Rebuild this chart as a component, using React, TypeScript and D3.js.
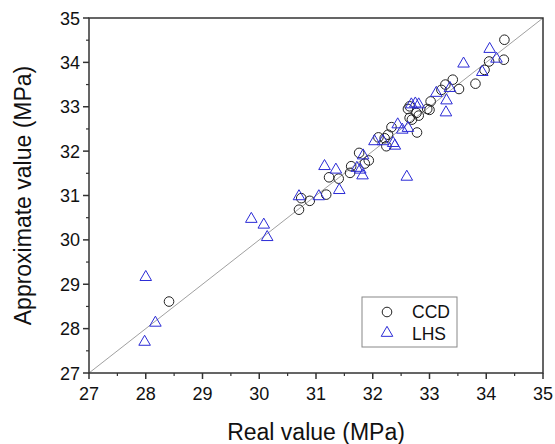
import React from 'react';
import * as d3 from 'd3';

// CCD 点：实测值 / 近似值
const ccdReal = [34.32, 34.31, 34.05, 33.97, 33.81, 33.41, 33.52, 33.28, 33.21, 33.02, 33.0, 32.96, 32.62, 32.65, 32.81, 32.77, 32.69, 32.78, 32.65, 32.33, 32.27, 32.21, 32.24, 32.1, 31.93, 31.86, 31.76, 31.62, 31.6, 31.4, 31.23, 31.18, 30.89, 30.74, 30.7, 28.41];
const ccdApprox = [34.51, 34.06, 34.02, 33.83, 33.52, 33.61, 33.4, 33.5, 33.38, 33.12, 32.93, 32.95, 32.95, 33.01, 32.8, 32.86, 32.71, 32.42, 32.75, 32.54, 32.37, 32.29, 32.11, 32.31, 31.79, 31.72, 31.96, 31.66, 31.51, 31.38, 31.41, 31.02, 30.88, 30.94, 30.68, 28.61];

// LHS 点
const lhsReal = [34.06, 34.18, 33.6, 33.93, 33.36, 33.12, 33.3, 33.29, 32.68, 32.75, 32.81, 32.44, 32.52, 32.62, 32.03, 32.18, 32.36, 32.39, 31.83, 31.72, 31.78, 31.82, 31.15, 31.35, 31.41, 31.05, 30.7, 32.6, 29.86, 30.08, 30.14, 28.0, 28.17, 27.98];
const lhsApprox = [34.3, 34.08, 33.97, 33.78, 33.42, 33.31, 33.14, 32.87, 33.05, 33.07, 33.05, 32.6, 32.48, 32.52, 32.22, 32.22, 32.18, 32.12, 31.9, 31.62, 31.58, 31.45, 31.66, 31.58, 31.12, 30.98, 30.98, 31.42, 30.47, 30.34, 30.06, 29.16, 28.13, 27.7];

const majorTicks = [27, 28, 29, 30, 31, 32, 33, 34, 35];
const minorTicks = [27.5, 28.5, 29.5, 30.5, 31.5, 32.5, 33.5, 34.5];
const legendNames = ['CCD', 'LHS'];

const W = 555;
const H = 444;
const left = 89;
const right = 543;
const top = 18;
const bottom = 373;
const font = '"Liberation Sans", Arial, sans-serif';
const blue = '#2b2bd6';

export default function App() {
  const x = d3.scaleLinear().domain([27, 35]).range([left, right]);
  const y = d3.scaleLinear().domain([27, 35]).range([bottom, top]);
  const tri = d3.symbol(d3.symbolTriangle, 58)() as string;

  return (
    <svg width={W} height={H} style={{position: 'absolute', left: 0, top: 0}} fontFamily={font}>
      <rect x={0} y={0} width={W} height={H} fill="#fff"/>
      {/* 对角线 */}
      <line x1={x(27)} y1={y(27)} x2={x(35)} y2={y(35)} stroke="#888" strokeWidth={0.8}/>

      {ccdReal.map((v, i) => (
        <circle key={'c' + i} cx={x(v)} cy={y(ccdApprox[i])} r={4.8} fill="none" stroke="#222" strokeWidth={1}/>
      ))}
      {lhsReal.map((v, i) => (
        <path key={'t' + i} d={tri} transform={`translate(${x(v)},${y(lhsApprox[i])})`} fill="none" stroke={blue} strokeWidth={1}/>
      ))}

      {/* 坐标框 */}
      <rect x={left} y={top} width={right - left} height={bottom - top} fill="none" stroke="#333" strokeWidth={1.5}/>

      {majorTicks.map(t => (
        <g key={'mx' + t}>
          <line x1={x(t)} x2={x(t)} y1={bottom} y2={bottom + 6} stroke="#333" strokeWidth={1.5}/>
          <text x={x(t)} y={bottom + 27} fontSize={18} textAnchor="middle" fill="#111">{t}</text>
          <line x1={left - 6} x2={left} y1={y(t)} y2={y(t)} stroke="#333" strokeWidth={1.5}/>
          <text x={left - 9} y={y(t) + 6.5} fontSize={18} textAnchor="end" fill="#111">{t}</text>
        </g>
      ))}
      {minorTicks.map(t => (
        <g key={'mn' + t}>
          <line x1={x(t)} x2={x(t)} y1={bottom} y2={bottom + 3} stroke="#333" strokeWidth={1.2}/>
          <line x1={left - 3} x2={left} y1={y(t)} y2={y(t)} stroke="#333" strokeWidth={1.2}/>
        </g>
      ))}

      <text x={(left + right) / 2} y={440} fontSize={23} textAnchor="middle" fill="#111">Real value (MPa)</text>
      <text transform={`translate(31,${(top + bottom) / 2}) rotate(-90)`} fontSize={23} textAnchor="middle" fill="#111">Approximate value (MPa)</text>

      {/* 图例 */}
      <rect x={362} y={297} width={95} height={50} fill="#fff" stroke="#888" strokeWidth={1}/>
      <circle cx={387} cy={312} r={4.8} fill="none" stroke="#222" strokeWidth={1}/>
      <path d={tri} transform="translate(387,333)" fill="none" stroke={blue} strokeWidth={1}/>
      {legendNames.map((n, i) => (
        <text key={n} x={412} y={318 + i * 22} fontSize={17.5} fill="#111">{n}</text>
      ))}
    </svg>
  );
}
